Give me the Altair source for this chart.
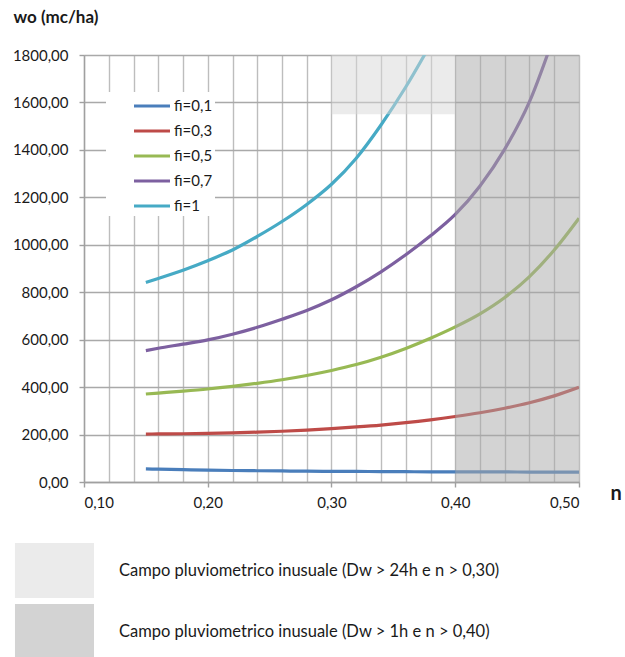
import altair as alt
import pandas as pd

# Sampled n values (rainfall exponent) and wo values (mc/ha) for each fi
n_vals = [0.15, 0.16, 0.18, 0.20, 0.22, 0.24, 0.26, 0.28, 0.30, 0.32,
          0.34, 0.36, 0.38, 0.40, 0.42, 0.44, 0.46, 0.48, 0.50]
wo_fi01 = [55, 54, 52, 50, 48.5, 47.5, 46.5, 45.5, 45, 44.5,
           44, 43.5, 43, 43, 42.5, 42.5, 42, 42, 42]
wo_fi03 = [202, 202.5, 203.5, 205, 207, 210, 214, 219, 225, 232,
           240, 250, 262, 276, 292, 311, 334, 363, 399]
wo_fi05 = [371, 375, 383, 392, 403, 416, 431, 449, 470, 495,
           526, 563, 606, 654, 709, 778, 866, 978, 1112]
wo_fi07 = [554, 564, 581, 599, 623, 652, 686, 723, 768, 823,
           886, 958, 1038, 1128, 1248, 1403, 1603, 1883]
wo_fi1 = [841, 858, 893, 933, 978, 1035, 1098, 1170, 1255, 1365,
          1505, 1665, 1845]

series_names = ["fi=0,1", "fi=0,3", "fi=0,5", "fi=0,7", "fi=1"]
series_colors = ["#4a7ebb", "#be4b48", "#98b954", "#7d60a0", "#46aac5"]
series_values = [wo_fi01, wo_fi03, wo_fi05, wo_fi07, wo_fi1]

# Unusual rainfall zones
zone_names = ["Campo pluviometrico inusuale (Dw > 24h e n > 0,30)",
              "Campo pluviometrico inusuale (Dw > 1h e n > 0,40)"]
zone_n_from = [0.30, 0.40]
zone_n_to = [0.40, 0.50]
zone_wo_from = [1550, 0]
zone_wo_to = [1800, 1800]
zone_colors = ["#d7d7d7", "#a7a7a7"]

# Axis ticks
x_ticks = [round(0.10 + 0.02 * i, 2) for i in range(21)]
y_ticks = [0, 200, 400, 600, 800, 1000, 1200, 1400, 1600, 1800]

rows = []
for name, vals in zip(series_names, series_values):
    for n, w in zip(n_vals, vals):
        rows.append({"serie": name, "n": n, "wo": w})
curves = pd.DataFrame(rows)

zones = pd.DataFrame({
    "zona": zone_names,
    "n1": zone_n_from,
    "n2": zone_n_to,
    "w1": zone_wo_from,
    "w2": zone_wo_to,
})

FONT = "Lato"
INK = "#1a1a1a"
major = "abs(datum.value*10 - round(datum.value*10)) < 0.001"

x_scale = alt.Scale(domain=[0.10, 0.50], nice=False, zero=False)
y_scale = alt.Scale(domain=[0, 1800], nice=False)

x_axis = alt.Axis(
    values=x_ticks,
    tickCount=len(x_ticks) + 4,
    labelExpr=f"{major} ? replace(format(datum.value, '.2f'), '.', ',') : ''",
    labelOverlap=False,
    tickOpacity={"condition": {"test": major, "value": 1}, "value": 0},
    tickSize=5, tickColor="#a0a0a0", tickWidth=1.4,
    labelPadding=8, labelFontSize=15, labelFont=FONT, labelColor=INK,
    gridColor="#bdbdbd", gridWidth=1.4,
    domainColor="#a0a0a0", domainWidth=1.4,
    title="n", titleFont=FONT, titleFontSize=20, titleFontWeight="bold",
    titleColor=INK, titleAngle=0, titleAlign="left", titleBaseline="middle",
    titleX=526, titleY=11,
)
y_axis = alt.Axis(
    values=y_ticks,
    tickCount=len(y_ticks) + 4,
    labelExpr="replace(format(datum.value, '.2f'), '.', ',')",
    labelOverlap=False,
    tickSize=5, tickColor="#a0a0a0", tickWidth=1.4,
    labelPadding=11, labelFontSize=15, labelFont=FONT, labelColor=INK,
    gridColor="#a9a9a9", gridWidth=1.4,
    domainColor="#a0a0a0", domainWidth=1.4,
    title="wo (mc/ha)", titleFont=FONT, titleFontSize=17, titleFontWeight="bold",
    titleColor=INK, titleAngle=0, titleAlign="left", titleBaseline="middle",
    titleX=-71, titleY=-38,
)

lines = alt.Chart(curves).mark_line(
    strokeWidth=3.2, interpolate="monotone", clip=True
).encode(
    x=alt.X("n:Q", scale=x_scale, axis=x_axis),
    y=alt.Y("wo:Q", scale=y_scale, axis=y_axis),
    color=alt.Color(
        "serie:N",
        sort=series_names,
        scale=alt.Scale(domain=series_names, range=series_colors),
        legend=alt.Legend(
            title=None, orient="none", legendX=22, legendY=37,
            fillColor="white", padding=2, symbolOffset=32,
            symbolType="M-1.8,0H1.8", symbolSize=400, symbolStrokeWidth=3.2,
            labelFontSize=15, labelFont=FONT, labelColor=INK, labelOffset=10,
            rowPadding=5,
        ),
    ),
)

shade = alt.Chart(zones).mark_rect(opacity=0.5, clip=True).encode(
    x=alt.X("n1:Q", scale=x_scale),
    x2="n2:Q",
    y=alt.Y("w1:Q", scale=y_scale),
    y2="w2:Q",
    fill=alt.Fill(
        "zona:N",
        sort=zone_names,
        scale=alt.Scale(domain=zone_names, range=zone_colors),
        legend=alt.Legend(
            title=None, orient="none", legendX=-57, legendY=488,
            symbolType="M-1.4364,-1H1.4364V1H-1.4364Z", symbolSize=3025,
            symbolOpacity=0.5, symbolStrokeWidth=0,
            labelFontSize=16.5, labelFont=FONT, labelColor=INK, labelOffset=37,
            labelLimit=600, rowPadding=6, padding=0,
        ),
    ),
)

chart = alt.layer(lines, shade).properties(
    width=495,
    height=427,
    autosize=alt.AutoSizeParams(type="none"),
    padding={"left": 84, "top": 55, "right": 46, "bottom": 175},
).configure_view(stroke=None).configure(background="white")

chart.save("out.html", embed_options={"renderer": "svg", "actions": False})
